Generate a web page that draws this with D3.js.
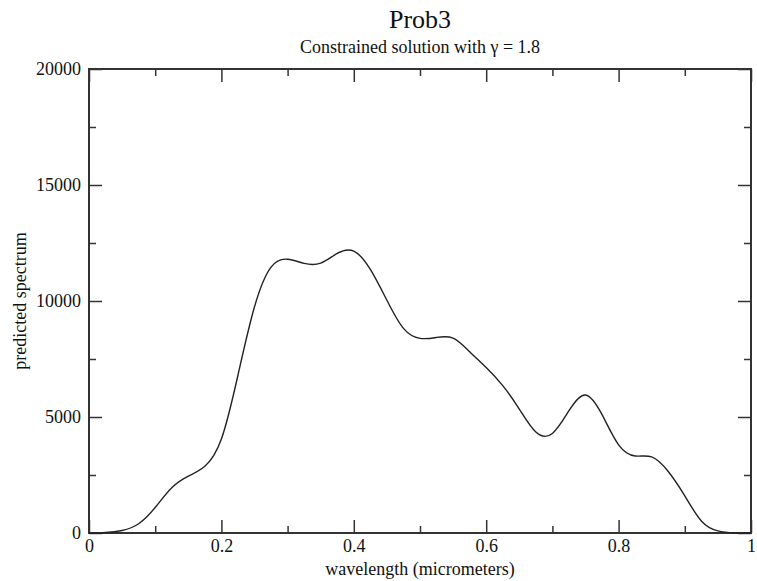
<!DOCTYPE html>
<head>
  <meta charset="utf-8">
  <script src="https://d3js.org/d3.v7.min.js"></script>
  <style>
    body { margin:0; background:#fff; }
    .axis path { display:none; }
    .axis line { stroke:#333; stroke-width:1.5; }
  </style>
</head>

<body>
  <div id="chart"></div>
  <script>
    // wavelength (micrometers) and predicted spectrum
    const wavelength = [0.000, 0.025, 0.050, 0.075, 0.100, 0.125, 0.150, 0.175, 0.200, 0.225,
                        0.250, 0.275, 0.300, 0.325, 0.350, 0.375, 0.400, 0.425, 0.450, 0.475,
                        0.500, 0.525, 0.550, 0.575, 0.600, 0.625, 0.650, 0.675, 0.700, 0.725,
                        0.750, 0.775, 0.800, 0.825, 0.850, 0.875, 0.900, 0.925, 0.950, 0.975, 1.000];
    const spectrum = [0, 20, 110, 400, 1100, 1950, 2450, 2880, 4050, 6800,
                      9750, 11460, 11800, 11620, 11630, 12050, 12150, 11360, 10030, 8820,
                      8390, 8430, 8400, 7815, 7130, 6350, 5340, 4350, 4290, 5270,
                      5950, 5100, 3800, 3320, 3280, 2650, 1600, 520, 90, 5, 0];

    const xMajor = [0, 0.2, 0.4, 0.6, 0.8, 1];
    const xMinor = [0.1, 0.3, 0.5, 0.7, 0.9];
    const yMajor = [0, 5000, 10000, 15000, 20000];
    const yMinor = [2500, 7500, 12500, 17500];

    const title = 'Prob3';
    const subtitle = 'Constrained solution with \u03b3 = 1.8';
    const xLabel = 'wavelength (micrometers)';
    const yLabel = 'predicted spectrum';

    const FONT = 'Liberation Serif';
    const W = 757, H = 581;
    const margin = { top: 69, right: 6, bottom: 48, left: 89 };
    const w = W - margin.left - margin.right,
          h = H - margin.top - margin.bottom;

    const svg = d3.select('#chart').append('svg')
      .attr('width', W)
      .attr('height', H);

    const g = svg.append('g')
      .attr('transform', `translate(${margin.left},${margin.top})`);

    const xScale = d3.scaleLinear().domain([0, 1]).range([0, w]);
    const yScale = d3.scaleLinear().domain([0, 20000]).range([h, 0]);

    const fmtX = d => d === 0 || d === 1 ? String(d) : d3.format('.1f')(d);

    function addAxis(axis, tx, ty) {
      return g.append('g').attr('class', 'axis')
        .attr('transform', `translate(${tx},${ty})`)
        .call(axis)
        .attr('font-family', FONT)
        .attr('font-size', 18)
        .call(s => s.selectAll('text').attr('fill', '#111'));
    }

    // bottom
    addAxis(d3.axisBottom(xScale).tickValues(xMajor).tickSize(-13).tickPadding(6).tickFormat(fmtX), 0, h);
    addAxis(d3.axisBottom(xScale).tickValues(xMinor).tickSize(-7).tickFormat(''), 0, h);
    // top
    addAxis(d3.axisTop(xScale).tickValues(xMajor).tickSize(-13).tickFormat(''), 0, 0);
    addAxis(d3.axisTop(xScale).tickValues(xMinor).tickSize(-7).tickFormat(''), 0, 0);
    // left
    addAxis(d3.axisLeft(yScale).tickValues(yMajor).tickSize(-13).tickPadding(8).tickFormat(d3.format('d')), 0, 0);
    addAxis(d3.axisLeft(yScale).tickValues(yMinor).tickSize(-7).tickFormat(''), 0, 0);
    // right
    addAxis(d3.axisRight(yScale).tickValues(yMajor).tickSize(-13).tickFormat(''), w, 0);
    addAxis(d3.axisRight(yScale).tickValues(yMinor).tickSize(-7).tickFormat(''), w, 0);

    // frame
    g.append('rect')
      .attr('width', w).attr('height', h)
      .attr('fill', 'none')
      .attr('stroke', '#333')
      .attr('stroke-width', 2);

    const line = d3.line()
      .x((d, i) => xScale(wavelength[i]))
      .y(d => yScale(d))
      .curve(d3.curveNatural);

    g.append('path')
      .datum(spectrum)
      .attr('d', line)
      .attr('fill', 'none')
      .attr('stroke', '#222')
      .attr('stroke-width', 1.4);

    // titles
    const addText = (x, y, size, str) => svg.append('text')
      .attr('x', x).attr('y', y)
      .attr('text-anchor', 'middle')
      .attr('font-family', FONT)
      .attr('font-size', size)
      .attr('fill', '#111')
      .text(str);

    addText(margin.left + w / 2, 28, 26, title);
    addText(margin.left + w / 2, 53, 18, subtitle);
    addText(margin.left + w / 2, 575, 18, xLabel);
    addText(0, 0, 18, yLabel)
      .attr('transform', `translate(26,${margin.top + h / 2}) rotate(-90)`);
  </script>
</body>
</html>
